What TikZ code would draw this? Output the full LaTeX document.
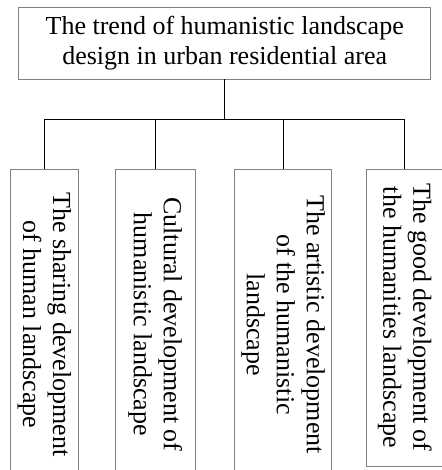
\documentclass[tikz,border=0pt]{standalone}
\usepackage{fontspec}
\setmainfont{Liberation Serif}
\begin{document}
\begin{tikzpicture}[x=1pt,y=-1pt,
  box/.style={draw=black!50, line width=0.9pt, inner sep=0pt, align=center,
    font=\fontsize{26}{30}\selectfont},
  vbox/.style={box, rotate=-90},
  link/.style={draw=black, line width=1pt}]
\useasboundingbox (0,0) rectangle (441,470);
\node[box, minimum width=412, minimum height=72] (top) at (224.7,43)
  {The trend of humanistic landscape\\design in urban residential area};
\node[vbox, minimum width=311, minimum height=68] (c1) at (44.3,324.5)
  {The sharing development\\of human landscape};
\node[vbox, minimum width=311, minimum height=79.3] (c2) at (155.3,324.5)
  {Cultural development of\\humanistic landscape};
\node[vbox, minimum width=311, minimum height=97] (c3) at (283,324.5)
  {The artistic development\\of the humanistic\\landscape};
\node[vbox, minimum width=297, minimum height=76] (c4) at (404.7,317.5)
  {The good development of\\the humanities landscape};
\coordinate (bar) at (224.7,120);
\draw[link] (top.south) -- (bar);
\draw[link] (c1.west) -- (c1.west |- bar) -- (c4.west |- bar) -- (c4.west);
\draw[link] (c2.west) -- (c2.west |- bar);
\draw[link] (c3.west) -- (c3.west |- bar);
\end{tikzpicture}
\end{document}
